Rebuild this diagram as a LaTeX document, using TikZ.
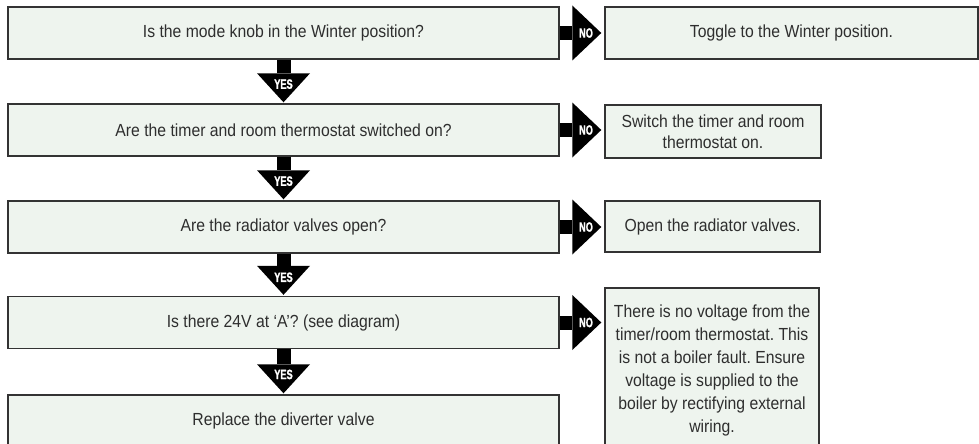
\documentclass[tikz,border=0pt]{standalone}
\usepackage{fontspec}
\setmainfont[FakeStretch=0.9]{Liberation Sans}
\newfontfamily\tagfont[FakeStretch=0.68,FakeBold=1.2]{Liberation Sans Bold}
\usetikzlibrary{arrows.meta}
\definecolor{boxfill}{HTML}{EEF4EE}
\definecolor{boxline}{HTML}{333333}
\definecolor{boxtext}{HTML}{2E2E2E}
\frenchspacing
\tikzset{
  qbox/.style={draw=boxline, line width=1.4pt, fill=boxfill, inner sep=0pt,
    text=boxtext, align=center, font=\fontsize{17.5}{21}\selectfont},
  yesarrow/.style={line width=14pt, shorten >=1pt,
    -{Triangle[width=53pt,length=29pt,line width=0pt]}},
  noarrow/.style={line width=14pt, shorten >=3pt,
    -{Triangle[width=55pt,length=29pt,line width=0pt]}},
  tag/.style={text=white, inner sep=0pt, font=\tagfont\fontsize{13.5}{14}\selectfont}
}
\begin{document}
\begin{tikzpicture}[x=1pt,y=-1pt]
\useasboundingbox (0,0) rectangle (979,444);
% questions
\node[qbox, minimum width=551pt, minimum height=52pt] (q1) at (283.5,33) {Is the mode knob in the Winter position?};
\node[qbox, minimum width=551pt, minimum height=52pt] (q2) at (283.5,130) {Are the timer and room thermostat switched on?};
\node[qbox, minimum width=551pt, minimum height=52pt] (q3) at (283.5,227) {Are the radiator valves open?};
\node[qbox, minimum width=551pt, minimum height=52pt] (q4) at (283.5,322.5) {Is there 24V at `A'? (see diagram)};
\node[qbox, minimum width=551pt, minimum height=52pt] (q5) at (283.5,421) {Replace the diverter valve};
% actions
\node[qbox, minimum width=373pt, minimum height=52pt] (a1) at (791.5,33) {Toggle to the Winter position.};
\node[qbox, minimum width=216pt, minimum height=53pt] (a2) at (713,131.5) {Switch the timer and room\\ thermostat on.};
\node[qbox, minimum width=215pt, minimum height=51pt] (a3) at (712.5,226.5) {Open the radiator valves.};
\node[qbox, minimum width=214pt, minimum height=164pt, font=\fontsize{17.5}{23}\selectfont] (a4) at (712,370) {There is no voltage from the\\ timer/room thermostat. This\\ is not a boiler fault. Ensure\\ voltage is supplied to the\\ boiler by rectifying external\\ wiring.};
% yes arrows
\draw[yesarrow] (q1.south) -- node[tag, pos=0.56] {YES} (q2.north);
\draw[yesarrow] (q2.south) -- node[tag, pos=0.56] {YES} (q3.north);
\draw[yesarrow] (q3.south) -- node[tag, pos=0.56] {YES} (q4.north);
\draw[yesarrow] (q4.south) -- node[tag, pos=0.56] {YES} (q5.north);
% no arrows
\draw[noarrow] (q1.east) -- node[tag, pos=0.59] {NO} (q1.east -| a1.west);
\draw[noarrow] (q2.east) -- node[tag, pos=0.59] {NO} (q2.east -| a2.west);
\draw[noarrow] (q3.east) -- node[tag, pos=0.59] {NO} (q3.east -| a3.west);
\draw[noarrow] (q4.east) -- node[tag, pos=0.59] {NO} (q4.east -| a4.west);
\end{tikzpicture}
\end{document}
